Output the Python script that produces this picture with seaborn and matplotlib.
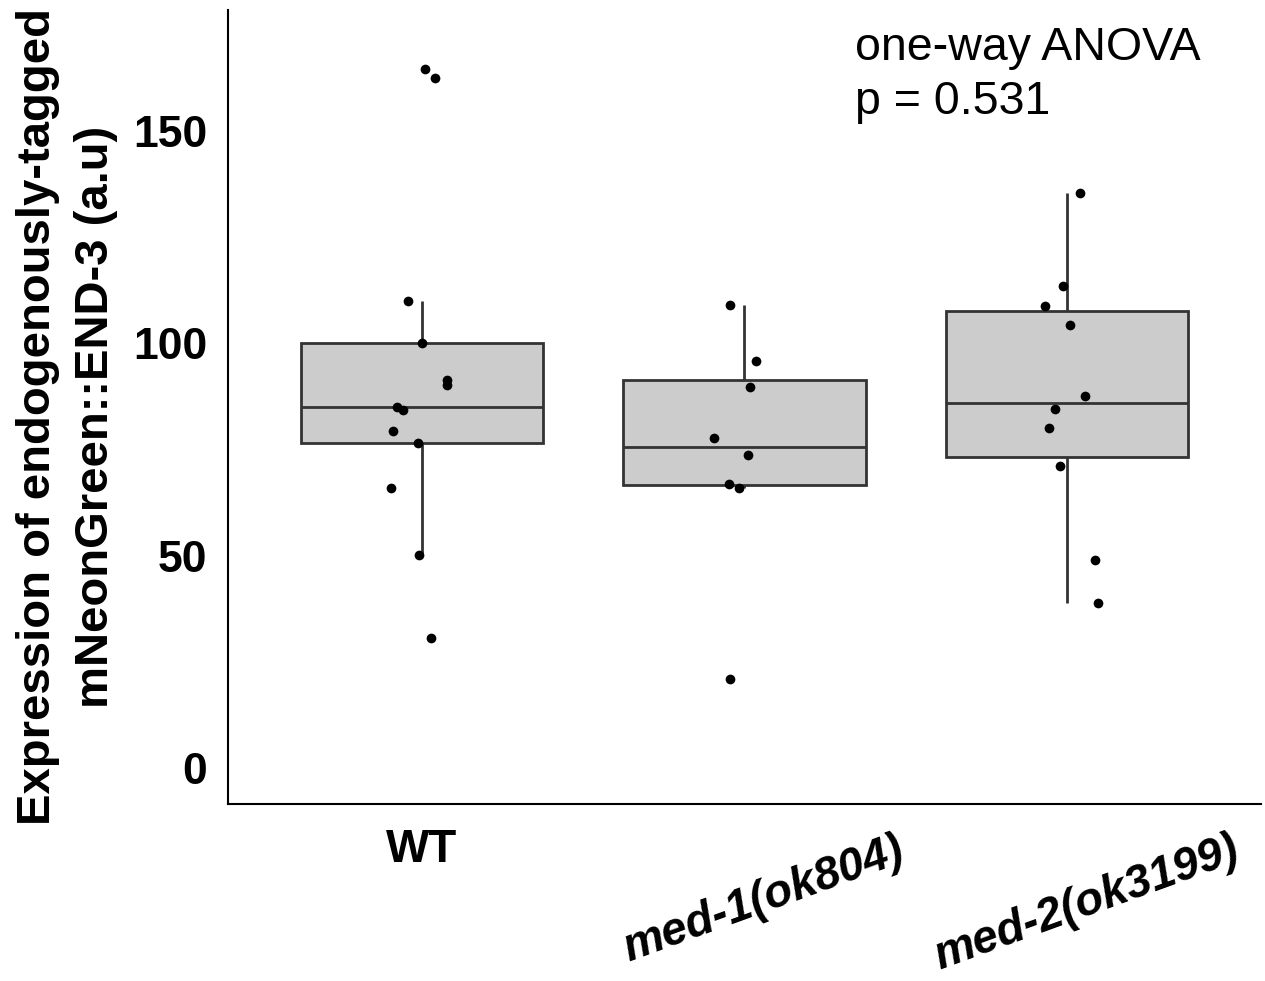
import numpy as np
import pandas as pd
import matplotlib
matplotlib.use("Agg")
import matplotlib.pyplot as plt
import matplotlib.transforms as mtransforms
import seaborn as sns

# values (a.u.)
groups = ["WT", "med-1(ok804)", "med-2(ok3199)"]
wt = [164.6, 162.6, 110.0, 100.0, 91.4, 90.1, 85.0, 84.3, 79.4, 76.6, 66.0, 50.1, 30.5]
med1 = [109.0, 95.9, 89.7, 77.8, 73.6, 66.9, 65.9, 21.0]
med2 = [135.5, 113.6, 108.9, 104.2, 87.6, 84.5, 80.1, 71.0, 49.0, 38.9]
yticks = [0, 50, 100, 150]

df = pd.DataFrame({
    "group": [groups[0]] * len(wt) + [groups[1]] * len(med1) + [groups[2]] * len(med2),
    "value": wt + med1 + med2,
})

sns.set_style("white")
plt.rcParams["font.family"] = ["Liberation Sans", "DejaVu Sans"]
plt.rcParams["text.color"] = "black"
plt.rcParams["axes.labelcolor"] = "black"
plt.rcParams["xtick.labelcolor"] = "black"
plt.rcParams["ytick.labelcolor"] = "black"

fig = plt.figure(figsize=(12.65, 9.81), dpi=100)
ax = fig.add_axes([0.1802, 0.1804, 0.8166, 0.8094])

sns.boxplot(data=df, x="group", y="value", order=groups, color="#CCCCCC",
            saturation=1, width=0.75, linecolor="#333333", linewidth=2.0,
            showfliers=False, showcaps=False, ax=ax)
np.random.seed(3)
sns.stripplot(data=df, x="group", y="value", order=groups, color="black",
              jitter=0.1, size=7, zorder=3, ax=ax)

ax.set_xlim(-0.6, 2.6)
ax.set_ylim(-8.5, 178.5)
ax.set_yticks(yticks)
ax.set_yticklabels([str(t) for t in yticks], fontsize=32, fontweight="bold")

ax.set_xlabel("")
ax.set_ylabel("Expression of endogenously-tagged\nmNeonGreen::END-3 (a.u)",
              fontsize=34, fontweight="bold", linespacing=1.43)
ax.yaxis.set_label_coords(-0.106, 0.488)

for s in ["top", "right"]:
    ax.spines[s].set_visible(False)
for s in ["left", "bottom"]:
    ax.spines[s].set_color("black")
    ax.spines[s].set_linewidth(1.5)

ax.tick_params(axis="both", length=2.5, width=1, color="#555555")
ax.tick_params(axis="y", pad=12.5)
ax.tick_params(axis="x", pad=15)

# ticks reset label transforms, so shift the slanted labels afterwards
shift = mtransforms.ScaledTranslation(0.19, 0, fig.dpi_scale_trans)
for i, lab in enumerate(ax.get_xticklabels()):
    lab.set_fontsize(33)
    lab.set_fontweight("bold")
    if i > 0:
        lab.set_rotation(20)
        lab.set_style("italic")
        lab.set_ha("center")
        lab.set_transform(lab.get_transform() + shift)

ax.text(1.343, 174.8, "one-way ANOVA\np = 0.531", fontsize=33.5, ha="left", va="top",
        linespacing=1.3)

fig.savefig("out.png", dpi=100)
